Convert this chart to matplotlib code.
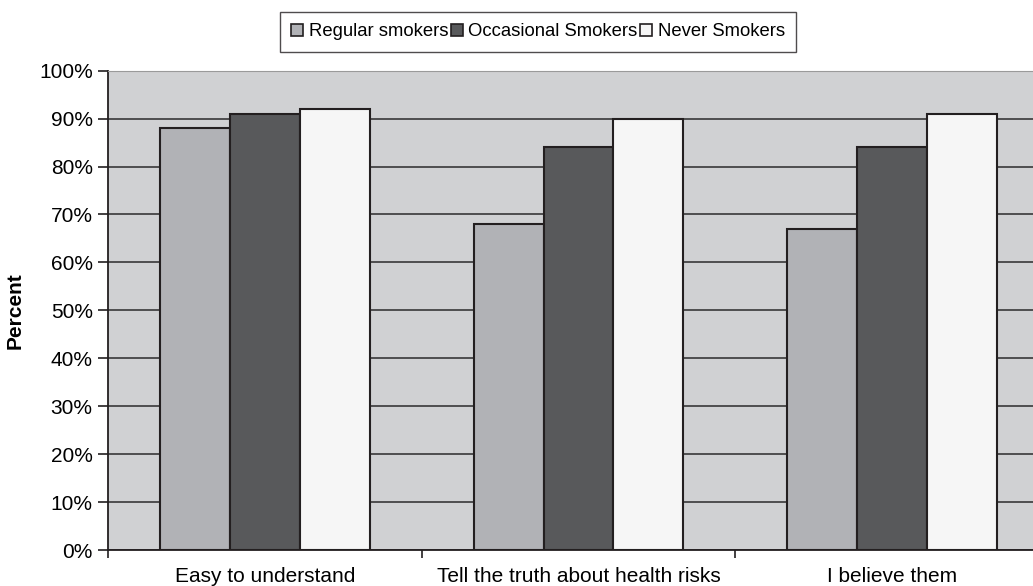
import matplotlib.pyplot as plt
import numpy as np
from matplotlib.patches import Patch

plt.rcParams['font.family'] = ['Liberation Sans', 'DejaVu Sans']

categories = ['Easy to understand', 'Tell the truth about health risks', 'I believe them']
series = ['Regular smokers', 'Occasional Smokers', 'Never Smokers']
regular = [88, 68, 67]
occasional = [91, 84, 84]
never = [92, 90, 91]
colors = ['#b1b2b6', '#58595b', '#f6f6f6']
edge = '#231f20'

fig = plt.figure(figsize=(10.33, 5.86), dpi=100)
ax = fig.add_axes([0.1045, 0.0614, 0.911, 0.818])
ax.set_facecolor('#d0d1d3')

x = np.arange(len(categories)) + 0.5
w = 0.223
for i, (vals, c) in enumerate(zip([regular, occasional, never], colors)):
    ax.bar(x + (i - 1) * w, vals, w, color=c, edgecolor=edge, linewidth=1.5, zorder=3)

ax.set_xlim(0, 3)
ax.set_ylim(0, 100)
ax.set_yticks(range(0, 101, 10))
ax.set_yticklabels([f'{v}%' for v in range(0, 101, 10)], fontsize=15)
ax.yaxis.grid(True, color='#2b2b2b', linewidth=1.1, zorder=1)
ax.set_axisbelow(True)

# category ticks sit between groups, labels at the group centres
ax.set_xticks([0, 1, 2, 3])
ax.set_xticklabels([])
ax.set_xticks(x, minor=True)
ax.set_xticklabels(categories, minor=True, fontsize=15)
ax.tick_params(axis='x', which='minor', length=0, pad=12)
ax.tick_params(axis='x', which='major', length=6, color='#231f20', width=1.2)
ax.tick_params(axis='y', length=7, color='#231f20', width=1.2, pad=4)

for s in ['left', 'bottom']:
    ax.spines[s].set_color('#231f20')
    ax.spines[s].set_linewidth(1.3)
ax.spines['top'].set_color('#9a9a9a')
ax.spines['right'].set_visible(False)

ax.set_ylabel('Percent', fontsize=15, fontweight='bold', labelpad=10)

handles = [Patch(facecolor=c, edgecolor=edge, linewidth=1.2) for c in colors]
fig.legend(handles, series, loc='center', bbox_to_anchor=(538 / 1033, 1 - 32 / 586),
           ncol=3, fontsize=13.3, frameon=True, fancybox=False, edgecolor='#231f20',
           handlelength=0.65, handleheight=0.65, handletextpad=0.3, columnspacing=0.15,
           borderpad=0.6, borderaxespad=0)

fig.savefig('out.png', dpi=100, facecolor='white')
